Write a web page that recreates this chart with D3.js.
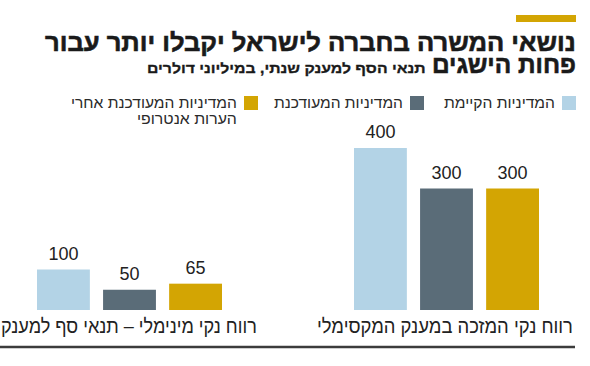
<!DOCTYPE html>
<html><head><meta charset="utf-8">
<script src="https://cdn.jsdelivr.net/npm/d3@7"></script>
<style>
html,body{margin:0;padding:0;background:#fff;}
svg{display:block;}
text{font-family:"Liberation Sans","DejaVu Sans",sans-serif;}
</style></head>
<body>
<script>
// ---- data ----
const groupKeys = ["min", "max"];
const groupLabels = ["רווח נקי מינימלי – תנאי סף למענק", "רווח נקי המזכה במענק המקסימלי"];
const seriesKeys = ["current", "updated", "anthropic"];
const currentValues = [100, 400];
const updatedValues = [50, 300];
const anthropicValues = [65, 300];
const title1 = "נושאי המשרה בחברה לישראל יקבלו יותר עבור";
const title2 = "פחות הישגים";
const subtitle = "תנאי הסף למענק שנתי, במיליוני דולרים";
const legendLines = [["המדיניות הקיימת"], ["המדיניות המעודכנת"], ["המדיניות המעודכנת אחרי", "הערות אנטרופי"]];

const colors = {current:"#b3d3e6", updated:"#5a6c78", anthropic:"#d3a503"};
const valuesBy = {current: currentValues, updated: updatedValues, anthropic: anthropicValues};

const W = 590, H = 366;
const svg = d3.select("body").append("svg").attr("width", W).attr("height", H);

function fitText(x, y, txt, width, attrs) {
  const t = svg.append("text").attr("x", 0).attr("y", 0).text(txt);
  for (const k in attrs) t.attr(k, attrs[k]);
  t.attr("text-anchor", "start");
  const w = t.node().getComputedTextLength();
  const k = width / w;
  t.attr("transform", `translate(${x - width},${y}) scale(${k},1)`);
  return t;
}

// header
svg.append("rect").attr("x", 516).attr("y", 15).attr("width", 60).attr("height", 7).attr("fill", "#d3a503");
const titleStyle = {"font-size": 25, "font-weight": "bold", fill: "#1a1a1a", stroke: "#1a1a1a", "stroke-width": 0.6};
fitText(576, 51, title1, 531, titleStyle);
fitText(576, 73, title2, 144, titleStyle);
fitText(426, 73, subtitle, 279, {"font-size": 14, "font-weight": "bold", fill: "#1a1a1a", stroke: "#1a1a1a", "stroke-width": 0.3});

// legend
const legendX = [576, 424, 258];
const legendW = [[111], [129], [166, 100]];
seriesKeys.forEach((k, i) => {
  svg.append("rect").attr("x", legendX[i] - 14).attr("y", 96).attr("width", 14).attr("height", 14).attr("fill", colors[k]);
  legendLines[i].forEach((ln, j) => {
    fitText(legendX[i] - 21, 108 + j * 16, ln, legendW[i][j], {"font-size": 15.5, fill: "#2a2a2a"});
  });
});

// scales
const x0 = d3.scaleBand().domain(groupKeys).range([37, 539]).paddingInner(0.4164).paddingOuter(0);
const x1 = d3.scaleBand().domain(seriesKeys).range([0, x0.bandwidth()]).paddingInner(0.2).paddingOuter(0);
const y = d3.scaleLinear().domain([0, 400]).range([310, 148]);

const gGroups = svg.selectAll("g.grp").data(groupKeys).join("g").attr("class", "grp")
  .attr("transform", d => `translate(${x0(d)},0)`);

gGroups.each(function(gk, gi) {
  const g = d3.select(this);
  const data = seriesKeys.map(sk => ({k: sk, v: valuesBy[sk][gi]}));
  g.selectAll("rect").data(data).join("rect")
    .attr("x", d => x1(d.k)).attr("width", x1.bandwidth())
    .attr("y", d => y(d.v)).attr("height", d => y(0) - y(d.v))
    .attr("fill", d => colors[d.k]);
  g.selectAll("text.val").data(data).join("text").attr("class", "val")
    .attr("x", d => x1(d.k) + x1.bandwidth() / 2).attr("y", d => y(d.v) - 10)
    .attr("text-anchor", "middle").attr("font-size", 18).attr("fill", "#222")
    .text(d => d.v);
});

// group labels
const labelRight = [257, 573];
groupKeys.forEach((gk, gi) => {
  fitText(labelRight[gi], 333, groupLabels[gi], 256, {"font-size": 20, fill: "#222"});
});

// bottom rule
svg.append("line").attr("x1", 0).attr("x2", 575).attr("y1", 347).attr("y2", 347)
  .attr("stroke", "#3c3c3c").attr("stroke-width", 2.5);
</script>
</body></html>
